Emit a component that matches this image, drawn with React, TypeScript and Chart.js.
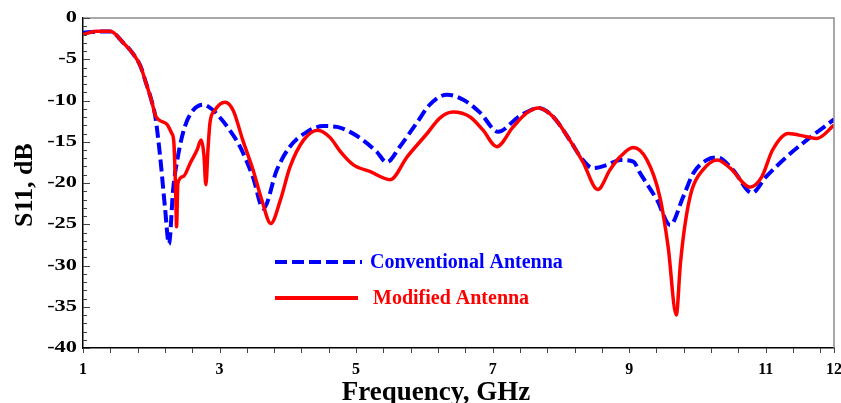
import React, { useEffect, useRef } from "react";
import { Chart, registerables } from "chart.js";

Chart.register(...registerables);

const convFreq = [1.0, 1.2, 1.4, 1.59, 1.73, 1.84, 1.92, 2.01, 2.06, 2.13, 2.2, 2.26, 2.32, 2.39, 2.49, 2.61, 2.76, 2.88, 3.0, 3.15, 3.3, 3.49, 3.64, 3.84, 4.03, 4.28, 4.52, 4.72, 4.91, 5.1, 5.3, 5.45, 5.64, 5.89, 6.08, 6.33, 6.57, 6.82, 7.08, 7.36, 7.5, 7.67, 7.89, 8.13, 8.32, 8.47, 8.68, 8.87, 9.06, 9.16, 9.41, 9.6, 9.79, 9.94, 10.14, 10.29, 10.52, 10.8, 11.0, 11.31, 11.6, 12.0];
const convS11 = [-1.8, -1.65, -1.65, -3.0, -4.3, -5.8, -7.8, -10.2, -12.0, -16.8, -22.9, -27.4, -20.8, -16.8, -13.2, -11.2, -10.5, -11.0, -12.0, -13.6, -15.6, -19.3, -23.1, -18.4, -15.6, -13.8, -13.1, -13.2, -13.8, -14.8, -16.2, -17.5, -15.6, -12.7, -10.5, -9.3, -9.9, -11.5, -13.8, -12.1, -11.4, -10.9, -12.0, -14.8, -17.2, -18.2, -17.8, -17.2, -17.4, -18.8, -22.1, -25.1, -21.7, -18.8, -17.2, -16.9, -18.4, -21.2, -19.3, -16.8, -14.8, -12.3];

const modFreq = [1.0, 1.2, 1.4, 1.59, 1.73, 1.84, 1.92, 2.01, 2.06, 2.12, 2.23, 2.3, 2.33, 2.36, 2.37, 2.39, 2.47, 2.57, 2.67, 2.73, 2.77, 2.8, 2.83, 2.86, 2.93, 3.08, 3.2, 3.34, 3.49, 3.62, 3.75, 3.89, 4.03, 4.23, 4.44, 4.62, 4.77, 4.96, 5.2, 5.5, 5.75, 6.04, 6.23, 6.42, 6.67, 6.86, 7.06, 7.3, 7.5, 7.67, 7.89, 8.13, 8.32, 8.54, 8.72, 8.87, 9.06, 9.26, 9.45, 9.57, 9.69, 9.75, 9.82, 9.92, 10.08, 10.29, 10.48, 10.77, 10.94, 11.1, 11.33, 11.6, 11.75, 12.0];
const modS11 = [-2.0, -1.6, -1.6, -3.0, -4.3, -5.8, -7.8, -10.2, -11.8, -12.4, -12.9, -14.0, -15.0, -22.0, -25.3, -20.0, -19.2, -17.6, -16.0, -14.8, -16.5, -20.2, -16.0, -12.7, -11.2, -10.2, -11.2, -14.8, -18.4, -22.1, -24.9, -22.1, -18.1, -14.8, -13.6, -14.5, -16.2, -17.8, -18.6, -19.6, -16.8, -14.0, -12.1, -11.4, -12.0, -13.6, -15.6, -13.2, -11.5, -10.9, -12.0, -14.8, -17.4, -20.8, -18.4, -16.8, -15.7, -17.2, -21.7, -27.7, -36.0, -29.8, -24.9, -20.8, -18.4, -17.2, -18.2, -20.5, -19.3, -16.0, -14.0, -14.4, -14.6, -13.0];

const xTickValues = [1, 3, 5, 7, 9, 11, 12];
const yTickValues = [0, -5, -10, -15, -20, -25, -30, -35, -40];
const xMinorStep = 0.4;
const yMinorStep = 1;
const xTitle = "Frequency, GHz";
const yTitle = "S11, dB";
const seriesLabels = ["Conventional Antenna", "Modified Antenna"];

const FONT = "'Liberation Serif', 'Times New Roman', serif";
const BLUE = "#0000ff";
const RED = "#ff0000";

const decor = {
  id: "decor",
  afterDraw(chart: any) {
    const { ctx, chartArea: a, scales } = chart;
    const x = scales.x;
    const y = scales.y;
    ctx.save();
    // top & right frame
    ctx.strokeStyle = "#8c8c8c";
    ctx.lineWidth = 1.5;
    ctx.beginPath();
    ctx.moveTo(a.left, a.top);
    ctx.lineTo(a.right, a.top);
    ctx.lineTo(a.right, a.bottom);
    ctx.stroke();
    // y ticks (inward)
    ctx.strokeStyle = "#444";
    ctx.lineWidth = 1;
    for (let v = 0; v >= -40; v -= yMinorStep) {
      const py = Math.round(y.getPixelForValue(v)) + 0.5;
      const len = Math.abs(v % 5) < 1e-6 ? 7 : 4;
      ctx.beginPath();
      ctx.moveTo(a.left, py);
      ctx.lineTo(a.left + len, py);
      ctx.stroke();
    }
    // x ticks (outward)
    const xs: number[] = [];
    for (let v = 1; v <= 12.0001; v += xMinorStep) xs.push(v);
    xs.push(12);
    xs.forEach((v) => {
      const px = Math.round(x.getPixelForValue(v)) + 0.5;
      ctx.beginPath();
      ctx.moveTo(px, a.bottom);
      ctx.lineTo(px, a.bottom + 5);
      ctx.stroke();
    });
    // y tick labels (wide face)
    ctx.fillStyle = "#000";
    ctx.font = `bold 16px ${FONT}`;
    ctx.textAlign = "right";
    ctx.textBaseline = "middle";
    yTickValues.forEach((v) => {
      const py = y.getPixelForValue(v);
      ctx.save();
      ctx.translate(a.left - 6, py);
      ctx.scale(1.4, 1);
      ctx.fillText(String(v), 0, 0);
      ctx.restore();
    });
    // axis titles
    ctx.font = `bold 27px ${FONT}`;
    ctx.textAlign = "center";
    ctx.textBaseline = "alphabetic";
    ctx.fillText(xTitle, 436, 400);
    ctx.save();
    ctx.translate(32, 185);
    ctx.rotate(-Math.PI / 2);
    ctx.font = `bold 26px ${FONT}`;
    ctx.fillText(yTitle, 0, 0);
    ctx.restore();
    // legend
    ctx.lineWidth = 4;
    ctx.setLineDash([12, 5]);
    ctx.strokeStyle = BLUE;
    ctx.beginPath();
    ctx.moveTo(275, 262);
    ctx.lineTo(362, 262);
    ctx.stroke();
    ctx.setLineDash([]);
    ctx.strokeStyle = RED;
    ctx.beginPath();
    ctx.moveTo(275, 298);
    ctx.lineTo(358, 298);
    ctx.stroke();
    ctx.font = `bold 20px ${FONT}`;
    ctx.textAlign = "left";
    ctx.textBaseline = "middle";
    ctx.fillStyle = BLUE;
    ctx.fillText(seriesLabels[0], 370, 263);
    ctx.fillStyle = RED;
    ctx.fillText(seriesLabels[1], 373, 299);
    ctx.restore();
  },
};

export default function App() {
  const ref = useRef<HTMLCanvasElement | null>(null);
  useEffect(() => {
    if (!ref.current) return;
    const chart = new Chart(ref.current, {
      type: "line",
      data: {
        datasets: [
          {
            label: seriesLabels[1],
            data: modFreq.map((f, i) => ({ x: f, y: modS11[i] })),
            borderColor: RED,
            borderWidth: 3.5,
            pointRadius: 0,
            cubicInterpolationMode: "monotone",
            fill: false,
          },
          {
            label: seriesLabels[0],
            data: convFreq.map((f, i) => ({ x: f, y: convS11[i] })),
            borderColor: BLUE,
            borderWidth: 4,
            borderDash: [12, 5],
            pointRadius: 0,
            cubicInterpolationMode: "monotone",
            fill: false,
          },
        ],
      },
      options: {
        animation: false,
        responsive: false,
        layout: { padding: { top: 18, right: 7, left: 0, bottom: 0 } },
        plugins: { legend: { display: false }, tooltip: { enabled: false } },
        scales: {
          x: {
            type: "linear",
            min: 1,
            max: 12,
            afterBuildTicks: (s: any) => {
              s.ticks = xTickValues.map((v) => ({ value: v }));
            },
            afterFit: (s: any) => {
              s.height = 55;
              s.paddingLeft = 0;
              s.paddingRight = 0;
            },
            grid: { display: false, drawTicks: false },
            border: { display: true, color: "#000", width: 1.5 },
            ticks: {
              padding: 12,
              color: "#000",
              font: { family: FONT, size: 16, weight: "bold" },
              maxRotation: 0,
              autoSkip: false,
            },
          },
          y: {
            type: "linear",
            min: -40,
            max: 0,
            afterBuildTicks: (s: any) => {
              s.ticks = yTickValues.map((v) => ({ value: v }));
            },
            afterFit: (s: any) => {
              s.width = 83;
              s.paddingTop = 0;
              s.paddingBottom = 0;
            },
            grid: { display: false, drawTicks: false },
            border: { display: true, color: "#000", width: 1.5 },
            ticks: {
              display: false,
              autoSkip: false,
            },
          },
        },
      },
      plugins: [decor],
    });
    return () => chart.destroy();
  }, []);
  return (
    <div style={{ position: "fixed", left: 0, top: 0, width: 841, height: 403, background: "#fff" }}>
      <canvas ref={ref} width={841} height={403} style={{ width: 841, height: 403 }} />
    </div>
  );
}
